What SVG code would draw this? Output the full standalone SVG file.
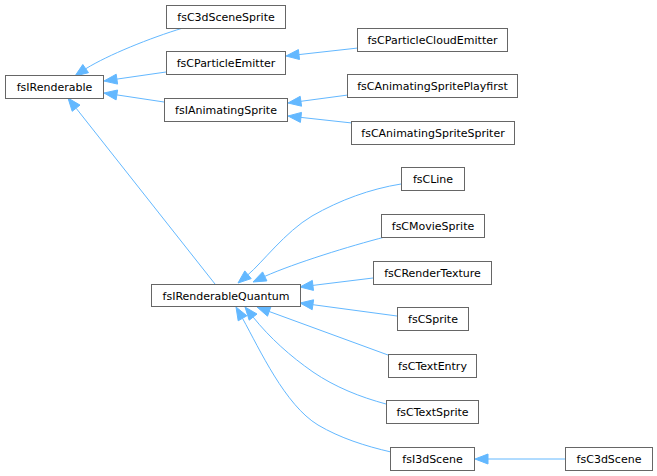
<svg xmlns="http://www.w3.org/2000/svg" width="657" height="476" viewBox="0 0 657 476">
<style>
.n rect{fill:#fff;stroke:#666;stroke-width:1}
.n text{font-family:"DejaVu Sans","Liberation Sans",sans-serif;font-size:11px;fill:#000;text-anchor:middle}
.e path{fill:none;stroke:#63b8ff;stroke-width:1}
.e polygon{fill:#63b8ff;stroke:#63b8ff;stroke-width:1}
</style>
<rect width="657" height="476" fill="#fff"/>
<g class="e">
<path d="M183,28 C150,38 108,55 86,68.6"/><polygon points="75,76 88.5,72.7 82.8,64.5"/>
<path d="M166,72 L116.9,79.1"/><polygon points="104,81 117.6,84.1 116.2,74.2"/>
<path d="M164,102 L116.9,94.9"/><polygon points="104,93 116.1,99.9 117.6,90"/>
<path d="M215,284 L76.1,108.2"/><polygon points="68,98 72.2,111.3 80,105.1"/>
<path d="M358,48 L298.9,54.6"/><polygon points="286,56 299.5,59.5 298.4,49.6"/>
<path d="M348,95 L300.9,101.3"/><polygon points="288,103 301.6,106.2 300.2,96.3"/>
<path d="M352,123 L300.9,117.4"/><polygon points="288,116 300.4,122.4 301.5,112.4"/>
<path d="M401,184 C370,189 340,200 312,216 C285,232 262,263 248,274.7"/><polygon points="238,283 251.2,278.6 244.8,270.9"/>
<path d="M385,237 C350,246 295,263 264.7,276.4"/><polygon points="253,282 266.9,280.9 262.6,271.9"/>
<path d="M373,278 L312.9,285.4"/><polygon points="300,287 313.5,290.4 312.3,280.4"/>
<path d="M397,316 L312.9,304.7"/><polygon points="300,303 312.2,309.7 313.6,299.8"/>
<path d="M388,355 L269.2,311.5"/><polygon points="257,307 267.5,316.2 270.9,306.8"/>
<path d="M386,404 C360,397 335,387 313,372 C290,356 270,338 253.1,317.1"/><polygon points="245,307 249.2,320.2 257,314"/>
<path d="M391,452 C365,446 340,438 318,425 C285,405 260,350 242.5,318.3"/><polygon points="236,307 238.2,320.8 246.9,315.8"/>
<path d="M565,459 L488,459"/><polygon points="475,459 488,464 488,454"/>
</g>
<g id="fsIRenderable" class="n"><rect x="5.5" y="75.5" width="98" height="23"/><text x="54.5" y="90.5">fsIRenderable</text></g>
<g id="fsC3dSceneSprite" class="n"><rect x="166.5" y="5.5" width="119" height="23"/><text x="226" y="20.5">fsC3dSceneSprite</text></g>
<g id="fsCParticleEmitter" class="n"><rect x="166.5" y="51.5" width="119" height="23"/><text x="226" y="66.5">fsCParticleEmitter</text></g>
<g id="fsIAnimatingSprite" class="n"><rect x="164.5" y="98.5" width="123" height="23"/><text x="226" y="113.5">fsIAnimatingSprite</text></g>
<g id="fsCParticleCloudEmitter" class="n"><rect x="357.5" y="28.5" width="150" height="23"/><text x="432.5" y="43.5">fsCParticleCloudEmitter</text></g>
<g id="fsCAnimatingSpritePlayfirst" class="n"><rect x="347.5" y="74.5" width="170" height="23"/><text x="432.5" y="89.5">fsCAnimatingSpritePlayfirst</text></g>
<g id="fsCAnimatingSpriteSpriter" class="n"><rect x="351.5" y="121.5" width="163" height="23"/><text x="433" y="136.5">fsCAnimatingSpriteSpriter</text></g>
<g id="fsIRenderableQuantum" class="n"><rect x="151.5" y="284.5" width="149" height="22"/><text x="226" y="299.5">fsIRenderableQuantum</text></g>
<g id="fsCLine" class="n"><rect x="401.5" y="167.5" width="63" height="23"/><text x="433" y="182.5">fsCLine</text></g>
<g id="fsCMovieSprite" class="n"><rect x="381.5" y="214.5" width="103" height="23"/><text x="433" y="229.5">fsCMovieSprite</text></g>
<g id="fsCRenderTexture" class="n"><rect x="373.5" y="261.5" width="118" height="23"/><text x="432.5" y="276.5">fsCRenderTexture</text></g>
<g id="fsCSprite" class="n"><rect x="397.5" y="307.5" width="71" height="23"/><text x="433" y="322.5">fsCSprite</text></g>
<g id="fsCTextEntry" class="n"><rect x="388.5" y="354.5" width="88" height="23"/><text x="432.5" y="369.5">fsCTextEntry</text></g>
<g id="fsCTextSprite" class="n"><rect x="386.5" y="400.5" width="92" height="23"/><text x="432.5" y="415.5">fsCTextSprite</text></g>
<g id="fsI3dScene" class="n"><rect x="390.5" y="447.5" width="84" height="23"/><text x="432.5" y="462.5">fsI3dScene</text></g>
<g id="fsC3dScene" class="n"><rect x="565.5" y="447.5" width="87" height="23"/><text x="609" y="462.5">fsC3dScene</text></g>
</svg>
